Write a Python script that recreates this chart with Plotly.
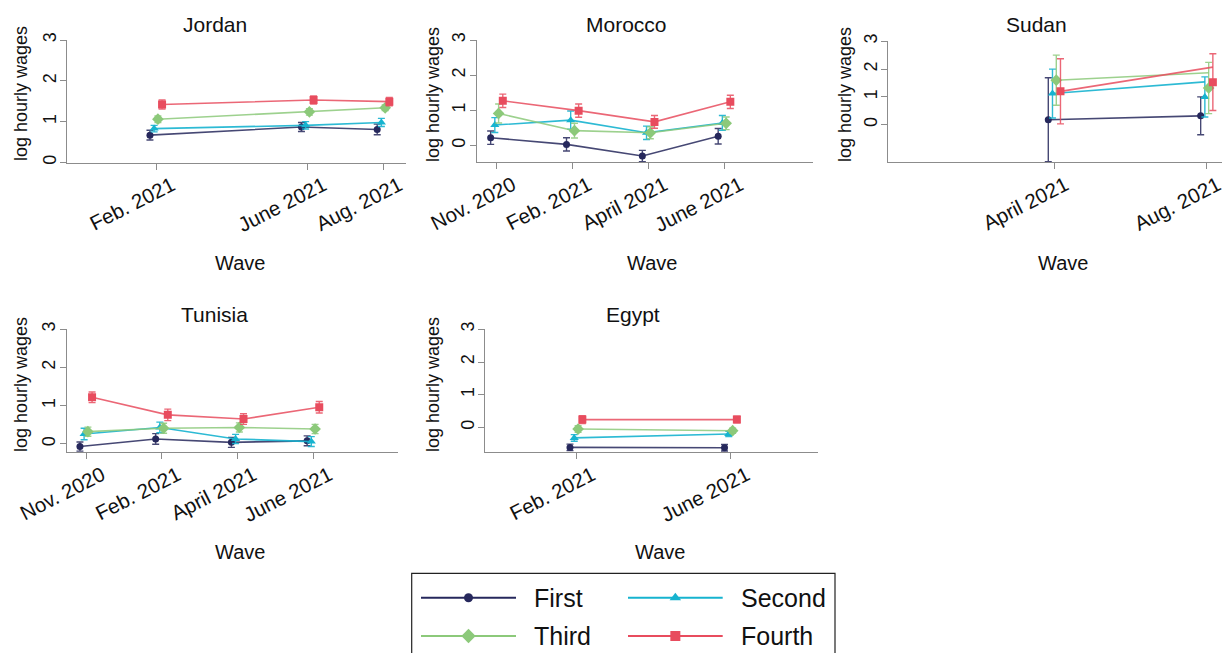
import plotly.graph_objects as go

# ---------------------------------------------------------------- data
WAVE_LABELS = ["Nov. 2020", "Feb. 2021", "April 2021", "June 2021", "Aug. 2021"]
GROUPS = ["First", "Second", "Third", "Fourth"]

jordan_waves = ["Feb. 2021", "June 2021", "Aug. 2021"]
jordan_mean = {"First": [0.67, 0.87, 0.81], "Second": [0.83, 0.91, 0.98],
               "Third": [1.06, 1.24, 1.34], "Fourth": [1.42, 1.53, 1.49]}
jordan_ci = {"First": [0.12, 0.11, 0.13], "Second": [0.08, 0.09, 0.10],
             "Third": [0.08, 0.08, 0.07], "Fourth": [0.11, 0.10, 0.10]}

morocco_waves = ["Nov. 2020", "Feb. 2021", "April 2021", "June 2021"]
morocco_mean = {"First": [0.22, 0.03, -0.30, 0.26], "Second": [0.58, 0.72, 0.36, 0.64],
                "Third": [0.91, 0.42, 0.36, 0.63], "Fourth": [1.27, 0.99, 0.67, 1.24]}
morocco_ci = {"First": [0.19, 0.19, 0.16, 0.22], "Second": [0.21, 0.26, 0.19, 0.21],
              "Third": [0.27, 0.21, 0.17, 0.18], "Fourth": [0.19, 0.19, 0.18, 0.19]}

sudan_waves = ["April 2021", "Aug. 2021"]
sudan_mean = {"First": [0.18, 0.32], "Second": [1.12, 1.00],
              "Third": [1.60, 1.32], "Fourth": [1.20, 1.53]}
sudan_ci = {"First": [1.51, 0.68], "Second": [0.88, 0.72],
            "Third": [0.90, 0.92], "Fourth": [1.17, 1.02]}
# connecting line values (differ from the point estimates in the last wave)
sudan_line = {"First": [0.18, 0.32], "Second": [1.12, 1.54],
              "Third": [1.60, 1.87], "Fourth": [1.20, 2.07]}

tunisia_waves = ["Nov. 2020", "Feb. 2021", "April 2021", "June 2021"]
tunisia_mean = {"First": [-0.07, 0.13, 0.04, 0.08], "Second": [0.26, 0.43, 0.13, 0.06],
                "Third": [0.32, 0.41, 0.43, 0.39], "Fourth": [1.22, 0.76, 0.65, 0.96]}
tunisia_ci = {"First": [0.12, 0.14, 0.13, 0.13], "Second": [0.15, 0.14, 0.12, 0.13],
              "Third": [0.12, 0.13, 0.12, 0.12], "Fourth": [0.14, 0.15, 0.14, 0.15]}

egypt_waves = ["Feb. 2021", "June 2021"]
egypt_mean = {"First": [-0.61, -0.62], "Second": [-0.32, -0.20],
              "Third": [-0.05, -0.10], "Fourth": [0.24, 0.24]}
egypt_ci = {"First": [0.10, 0.10], "Second": [0.10, 0.08],
            "Third": [0.10, 0.08], "Fourth": [0.12, 0.10]}

Y_TICKS = [0, 1, 2, 3]

# ---------------------------------------------------------------- style
W, H = 1224, 653
FONT = "Liberation Sans, Arial, Helvetica, sans-serif"
AXIS_GREY = "#8c8c8c"

COLORS = {"First": "#26285c", "Second": "#16b3cf", "Third": "#8cc97a", "Fourth": "#e84c5e"}
LINE_COLORS = {"First": "rgba(38,40,92,0.85)", "Second": "rgba(22,179,207,0.9)",
               "Third": "rgba(140,201,122,0.85)", "Fourth": "rgba(232,76,94,0.85)"}
SYMBOLS = {"First": "circle", "Second": "triangle-up", "Third": "diamond", "Fourth": "square"}
SIZES = {"First": 7, "Second": 8, "Third": 9, "Fourth": 8}
OFFSET = {"First": -0.08, "Second": -0.025, "Third": 0.025, "Fourth": 0.08}

# plot boxes in pixels: left, top, right, bottom
PANELS = [
    dict(title="Jordan", waves=jordan_waves, mean=jordan_mean, ci=jordan_ci, line=None,
         box=(67, 40, 406, 162.5), xr=(0.825, 5.30), yr=(0, 3), shift=16,
         tpos=(215, 25), wpos=(240, 263), ypos=(21, 94)),
    dict(title="Morocco", waves=morocco_waves, mean=morocco_mean, ci=morocco_ci, line=None,
         box=(476.7, 40, 813, 162.3), xr=(0.736, 5.17), yr=(-0.48, 3), shift=16,
         tpos=(626.7, 25), wpos=(651.7, 263), ypos=(433, 95)),
    dict(title="Sudan", waves=sudan_waves, mean=sudan_mean, ci=sudan_ci, line=sudan_line,
         box=(888.3, 40.7, 1222, 162.3), xr=(0.82, 5.2), yr=(-1.35, 3.02), shift=11,
         tpos=(1036.7, 25), wpos=(1063.3, 263), ypos=(845, 95)),
    dict(title="Tunisia", waves=tunisia_waves, mean=tunisia_mean, ci=tunisia_ci, line=None,
         box=(66.7, 329.3, 398, 452.3), xr=(0.745, 5.12), yr=(-0.22, 3), shift=16,
         tpos=(215, 314), wpos=(240, 552), ypos=(21, 385)),
    dict(title="Egypt", waves=egypt_waves, mean=egypt_mean, ci=egypt_ci, line=None,
         box=(485, 329.3, 818, 452.3), xr=(0.82, 5.13), yr=(-0.76, 3), shift=16,
         tpos=(632.7, 314), wpos=(660, 552), ypos=(433, 385)),
]


def px(x):
    return x / W


def py(y):
    return 1 - y / H


fig = go.Figure()
annotations = []

for i, p in enumerate(PANELS):
    k = "" if i == 0 else str(i + 1)
    xa, ya = "x" + k, "y" + k
    idx = [WAVE_LABELS.index(w) + 1 for w in p["waves"]]
    for g in GROUPS:
        xs = [v + OFFSET[g] for v in idx]
        line_vals = p["line"][g] if p["line"] else p["mean"][g]
        fig.add_trace(go.Scatter(
            x=xs, y=line_vals, mode="lines", xaxis=xa, yaxis=ya,
            line=dict(color=LINE_COLORS[g], width=1.6), showlegend=False, hoverinfo="skip"))
        fig.add_trace(go.Scatter(
            x=xs, y=p["mean"][g], mode="markers", xaxis=xa, yaxis=ya, name=g,
            marker=dict(symbol=SYMBOLS[g], size=SIZES[g], color=COLORS[g], line=dict(width=0)),
            error_y=dict(type="data", array=p["ci"][g], symmetric=True,
                         color=LINE_COLORS[g], thickness=1.4, width=3.5),
            showlegend=False))

    l, t, r, b = p["box"]
    fig.layout["xaxis" + k] = dict(
        domain=[px(l), px(r)], anchor=ya, range=list(p["xr"]), automargin=False,
        tickmode="array", tickvals=idx, ticktext=p["waves"], tickangle=-27,
        ticklabelshift=p["shift"], ticklabelstandoff=-4, ticklabeloverflow="allow",
        ticks="outside", ticklen=6, tickcolor=AXIS_GREY, tickwidth=1.3,
        showline=True, linecolor=AXIS_GREY, linewidth=1.3,
        showgrid=False, zeroline=False,
        tickfont=dict(family=FONT, size=20.5, color="#111111"))
    fig.layout["yaxis" + k] = dict(
        domain=[py(b), py(t)], anchor=xa, range=list(p["yr"]), automargin=False,
        tickmode="array", tickvals=Y_TICKS, tickangle=-90, ticklabelstandoff=-3,
        ticks="outside", ticklen=6, tickcolor=AXIS_GREY, tickwidth=1.3,
        showline=True, linecolor=AXIS_GREY, linewidth=1.3,
        showgrid=False, zeroline=False,
        tickfont=dict(family=FONT, size=18, color="#111111"))

    annotations.append(dict(text=p["title"], x=px(p["tpos"][0]), y=py(p["tpos"][1]),
                            xref="paper", yref="paper", showarrow=False,
                            xanchor="center", yanchor="middle",
                            font=dict(family=FONT, size=21, color="#111111")))
    annotations.append(dict(text="Wave", x=px(p["wpos"][0]), y=py(p["wpos"][1]),
                            xref="paper", yref="paper", showarrow=False,
                            xanchor="center", yanchor="middle",
                            font=dict(family=FONT, size=20, color="#111111")))
    annotations.append(dict(text="log hourly wages", x=px(p["ypos"][0]), y=py(p["ypos"][1]),
                            xref="paper", yref="paper", showarrow=False, textangle=-90,
                            xanchor="center", yanchor="middle",
                            font=dict(family=FONT, size=18, color="#111111")))

# ---------------------------------------------------------------- legend
LEG_L, LEG_T, LEG_R = 411.7, 573.3, 835
fig.layout["xaxis6"] = dict(domain=[px(LEG_L), px(LEG_R)], range=[LEG_L, LEG_R],
                            visible=False, fixedrange=True, automargin=False, anchor="y6")
fig.layout["yaxis6"] = dict(domain=[0, py(LEG_T)], range=[H, LEG_T], visible=False,
                            fixedrange=True, automargin=False, anchor="x6")
leg_slots = {"First": (421, 516, 597.7), "Second": (628, 722.7, 597.7),
             "Third": (421, 516, 636), "Fourth": (628, 722.7, 636)}
for g in GROUPS:
    x0, x1, yy = leg_slots[g]
    fig.add_trace(go.Scatter(x=[x0, x1], y=[yy, yy], mode="lines", xaxis="x6", yaxis="y6",
                             line=dict(color=COLORS[g], width=2), showlegend=False,
                             hoverinfo="skip"))
    fig.add_trace(go.Scatter(x=[(x0 + x1) / 2], y=[yy], mode="markers", xaxis="x6", yaxis="y6",
                             marker=dict(symbol=SYMBOLS[g], size=SIZES[g] + 2, color=COLORS[g]),
                             showlegend=False, hoverinfo="skip"))
    annotations.append(dict(text=g, x=px(x1 + 16), y=py(yy), xref="paper", yref="paper",
                            showarrow=False, xanchor="left", yanchor="middle",
                            font=dict(family=FONT, size=25, color="#111111")))

fig.update_layout(
    template="none",
    width=W, height=H, autosize=False,
    margin=dict(l=0, r=0, t=0, b=0, pad=0),
    paper_bgcolor="white", plot_bgcolor="white",
    annotations=annotations,
    shapes=[dict(type="rect", xref="paper", yref="paper",
                 x0=px(LEG_L), x1=px(LEG_R), y0=-0.05, y1=py(LEG_T),
                 line=dict(color="#222222", width=1.2), fillcolor="rgba(0,0,0,0)")],
    showlegend=False,
)

fig.write_html("out.html")
